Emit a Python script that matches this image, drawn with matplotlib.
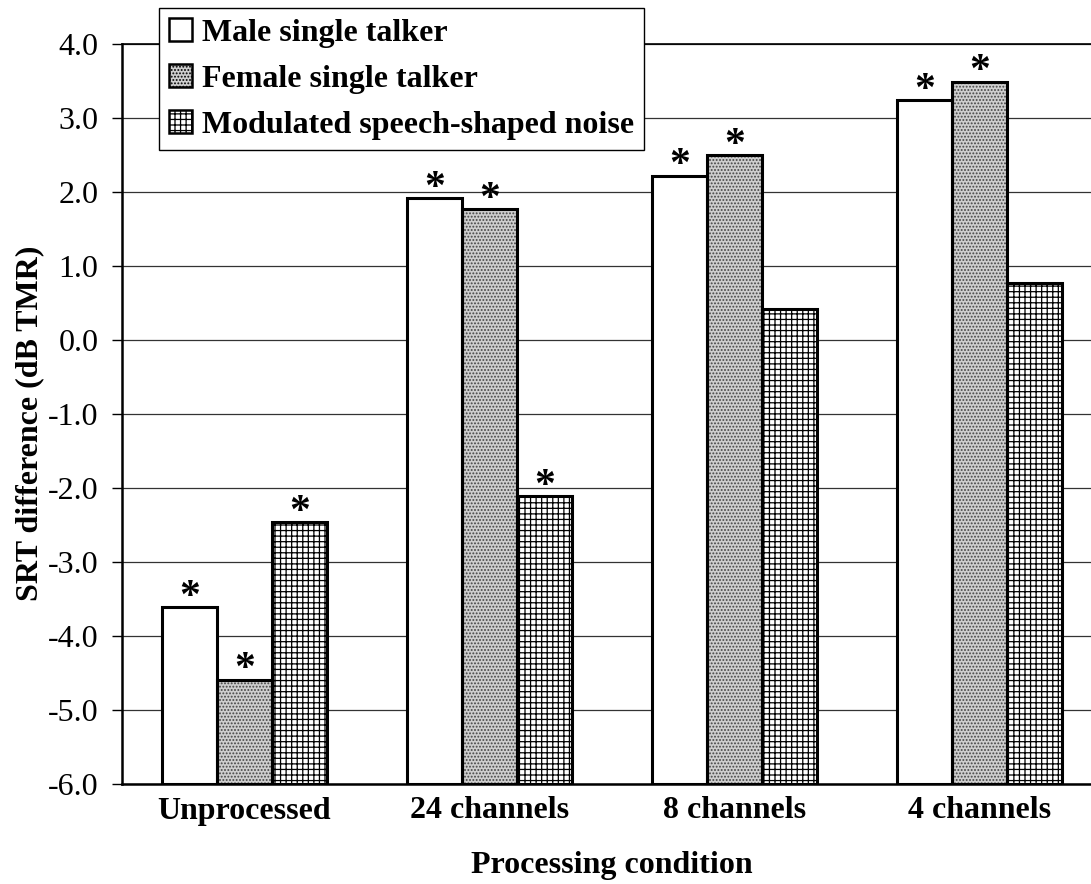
"""
srt_difference.py

Grouped bar chart of SRT differences for each
processing condition and masker type.
"""

import numpy as np
import matplotlib
matplotlib.use("Agg")
import matplotlib.pyplot as plt
from matplotlib.patches import Patch
from matplotlib.ticker import MultipleLocator, FormatStrFormatter


conditions = ["Unprocessed", "24 channels", "8 channels", "4 channels"]
maskers = ["Male single talker", "Female single talker",
           "Modulated speech-shaped noise"]

male = [-3.61, 1.92, 2.22, 3.24]
female = [-4.59, 1.77, 2.50, 3.49]
modulated = [-2.46, -2.11, 0.42, 0.77]

male_sig = [True, True, True, True]
female_sig = [True, True, True, True]
modulated_sig = [True, True, False, False]

y_min, y_max = -6.0, 4.0

plt.rcParams["font.family"] = ["Liberation Serif", "DejaVu Serif"]
plt.rcParams["axes.unicode_minus"] = False
plt.rcParams["hatch.linewidth"] = 0.9

FS = 23

# fill style per masker: face colour, hatch, hatch colour
styles = [
    ("white", None, "black"),
    ("#cecece", ".....", "#444444"),
    ("white", "+++", "black"),
]


def draw_bars(ax, x, values, style):
    face, hatch, hatch_color = style
    heights = np.array(values) - y_min
    # fill + hatch first, then the black outline on top
    ax.bar(x, heights, bottom=y_min, width=bar_w, facecolor=face,
           hatch=hatch, edgecolor=hatch_color, linewidth=0, zorder=2)
    ax.bar(x, heights, bottom=y_min, width=bar_w, facecolor="none",
           edgecolor="black", linewidth=2.2, zorder=3)


def draw_stars(ax, x, values, flags):
    for xi, v, f in zip(x, values, flags):
        if f:
            ax.annotate("*", (xi, v), xytext=(0, -7),
                        textcoords="offset points", ha="center",
                        va="bottom", fontsize=30, fontweight="bold")


fig = plt.figure(figsize=(10.91, 8.84), dpi=100)
ax = fig.add_axes([122 / 1091, 100 / 884, 980 / 1091, 740 / 884])

bar_w = 0.225
x = np.arange(len(conditions))

for offset, vals, st in zip([-bar_w, 0, bar_w],
                            [male, female, modulated], styles):
    draw_bars(ax, x + offset, vals, st)

draw_stars(ax, x - bar_w, male, male_sig)
draw_stars(ax, x, female, female_sig)
draw_stars(ax, x + bar_w, modulated, modulated_sig)

ax.set_xlim(-0.5, len(conditions) - 0.5)
ax.set_ylim(y_min, y_max)
ax.yaxis.set_major_locator(MultipleLocator(1.0))
ax.yaxis.set_major_formatter(FormatStrFormatter("%.1f"))
ax.grid(axis="y", color="#333333", linewidth=0.9, zorder=0)
ax.set_axisbelow(True)

ax.set_xticks(x)
ax.set_xticklabels(conditions, fontsize=FS, fontweight="bold")
ax.tick_params(axis="x", length=0, pad=9)
ax.tick_params(axis="y", length=7, width=1, labelsize=FS, pad=10)

for side in ["left", "bottom"]:
    ax.spines[side].set_linewidth(1.8)
ax.spines["top"].set_linewidth(1.2)
ax.spines["right"].set_visible(False)

ax.set_ylabel("SRT difference (dB TMR)", fontsize=FS, fontweight="bold")
ax.yaxis.set_label_coords(-0.079, 0.488)
ax.set_xlabel("Processing condition", fontsize=FS, fontweight="bold")
ax.xaxis.set_label_coords(0.5, -0.09)

handles = [Patch(facecolor=f, edgecolor="black", hatch=h, linewidth=1.8)
           for f, h, _ in styles]
leg = fig.legend(handles, maskers, loc="upper left",
                 bbox_to_anchor=(159 / 1091, 1 - 8 / 884),
                 prop={"size": FS, "weight": "bold"},
                 handlelength=0.7, handleheight=0.7,
                 handletextpad=0.33, labelspacing=0.52,
                 borderpad=0.32, borderaxespad=0,
                 fancybox=False, framealpha=1, edgecolor="black")
leg.get_frame().set_linewidth(1.0)

fig.savefig("out.png", dpi=100)
